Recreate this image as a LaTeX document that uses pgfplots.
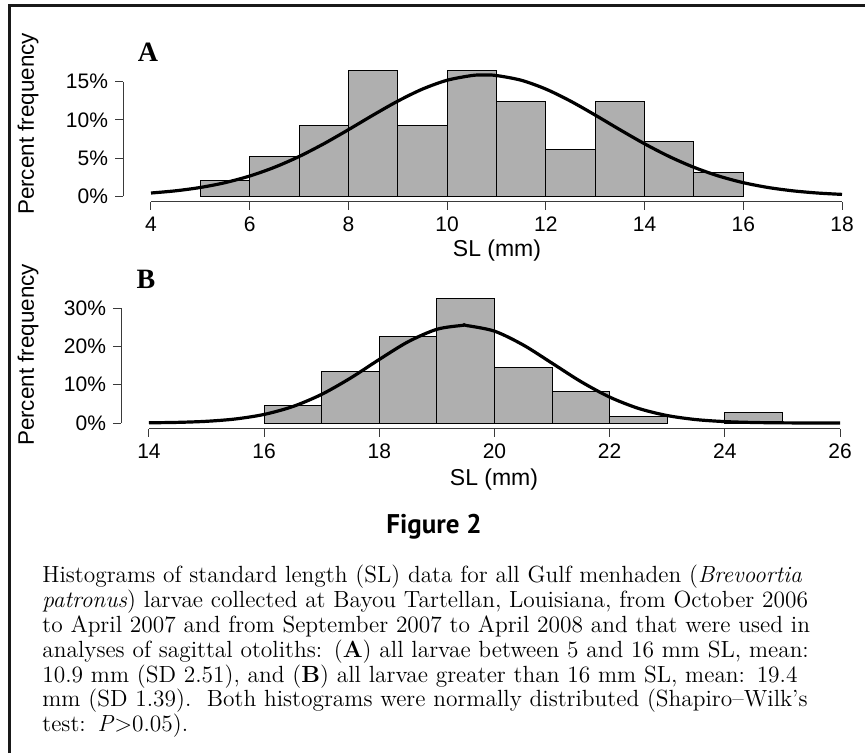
\documentclass[border=0pt]{standalone}
\usepackage{fontspec}
\usepackage{pgfplots}
\pgfplotsset{compat=1.18}
\newfontfamily\arial{Liberation Sans}
\newfontfamily\tnr{Liberation Serif}
\newfontfamily\ptsans{PT Sans}
\definecolor{barfill}{HTML}{AFAFAF}
\definecolor{axcol}{HTML}{3A3A3A}
\newcommand{\capline}[1]{\makebox[398.5pt][s]{#1}}
\begin{document}
\begin{tikzpicture}
\begin{scope}[x=0.5pt,y=-0.5pt]
\useasboundingbox (0,0) rectangle (865,753);
\draw[line width=1.5pt, color=black!90] (9.5,753) -- (9.5,5.5) -- (865,5.5);
\node[rotate=90, font=\arial\fontsize{11.2}{13}\selectfont] at (28,124) {Percent frequency};
\node[rotate=90, font=\arial\fontsize{11.2}{13}\selectfont] at (28,355) {Percent frequency};
\node[font=\tnr\bfseries\fontsize{14}{16}\selectfont] at (148,52) {A};
\node[font=\tnr\bfseries\fontsize{14}{16}\selectfont] at (146,279) {B};
\node[font=\arial\fontsize{11.5}{13}\selectfont] at (497,251) {SL (mm)};
\node[font=\arial\fontsize{11.5}{13}\selectfont] at (494,480) {SL (mm)};
\node[font=\ptsans\bfseries\fontsize{13.5}{15}\selectfont, anchor=base] at (434,533) {Figure 2};
\node[anchor=north west, inner sep=0pt, text width=398.5pt, align=left, font=\fontsize{11.7}{12.4}\selectfont] at (42,565) {%
\capline{Histograms of standard length (SL) data for all Gulf menhaden (\textit{Brevoortia}}\\
\capline{\textit{patronus}) larvae collected at Bayou Tartellan, Louisiana, from October 2006}\\
\capline{to April 2007 and from September 2007 to April 2008 and that were used in}\\
\capline{analyses of sagittal otoliths: (\textbf{A}) all larvae between 5 and 16 mm SL, mean:}\\
\capline{10.9 mm (SD 2.51), and (\textbf{B}) all larvae greater than 16 mm SL, mean: 19.4}\\
\capline{mm (SD 1.39).\ \ Both histograms were normally distributed (Shapiro--Wilk's}\\
test: \textit{P}\textgreater0.05).};
\end{scope}

\begin{axis}[
  at={(61.5pt,-101pt)}, anchor=south west,
  scale only axis, width=359.5pt, height=67.75pt,
  xmin=3.433, xmax=18, ymin=-0.75, ymax=17,
  axis line style={draw=none},
  tick align=outside, major tick length=4pt,
  xtick={4,6,...,18}, ytick={0,5,10,15},
  yticklabels={0\%,5\%,10\%,15\%},
  xtick pos=left, ytick pos=left,
  tick style={axcol, line width=0.5pt},
  ticklabel style={font=\arial\fontsize{10.5}{12}\selectfont},
  /pgf/number format/assume math mode=true,
  clip=false,
]
\addplot[ybar interval, fill=barfill, draw=black, line width=0.5pt] coordinates {
(5,2.06) (6,5.15) (7,9.28) (8,16.49) (9,9.28) (10,16.49) (11,12.37) (12,6.19) (13,12.37) (14,7.22) (15,3.09) (16,0)};
\addplot[smooth, line width=1.6pt, black] coordinates {
(4,0.427) (4.5,0.716) (5,1.153) (5.5,1.782) (6,2.653) (6.5,3.793) (7,5.207) (7.5,6.873) (8,8.721) (8.5,10.635) (9,12.464) (9.5,14.041) (10,15.200) (10.5,15.816) (10.75,15.894) (11,15.816) (11.5,15.200) (12,14.041) (12.5,12.464) (13,10.635) (13.5,8.721) (14,6.873) (14.5,5.207) (15,3.793) (15.5,2.653) (16,1.782) (16.5,1.153) (17,0.716) (17.5,0.427) (18,0.245)};
\draw[axcol, line width=0.5pt] (axis cs:4,-0.75) -- (axis cs:18,-0.75);
\draw[axcol, line width=0.5pt] (axis cs:3.433,0) -- (axis cs:3.433,15);
\end{axis}

\begin{axis}[
  at={(60.5pt,-214.25pt)}, anchor=south west,
  scale only axis, width=359.5pt, height=67.9pt,
  xmin=13.514, xmax=26, ymin=-1.43, ymax=34,
  axis line style={draw=none},
  tick align=outside, major tick length=4pt,
  xtick={14,16,...,26}, ytick={0,10,20,30},
  yticklabels={0\%,10\%,20\%,30\%},
  xtick pos=left, ytick pos=left,
  tick style={axcol, line width=0.5pt},
  ticklabel style={font=\arial\fontsize{10.5}{12}\selectfont},
  /pgf/number format/assume math mode=true,
  clip=false,
]
\addplot[ybar interval, fill=barfill, draw=black, line width=0.5pt] coordinates {
(16,4.5) (17,13.5) (18,22.5) (19,32.4) (20,14.4) (21,8.1) (22,1.8) (23,0)};
\addplot[ybar interval, fill=barfill, draw=black, line width=0.5pt] coordinates {
(24,2.7) (25,0)};
\addplot[smooth, line width=1.6pt, black] coordinates {
(14,0.059) (14.5,0.171) (15,0.448) (15.5,1.054) (16,2.244) (16.5,4.313) (17,7.489) (17.5,11.728) (18,16.594) (18.5,21.203) (19,24.458) (19.45,25.49) (19.5,25.477) (20,23.963) (20.5,20.351) (21,15.607) (21.5,10.808) (22,6.763) (22.5,3.816) (23,1.947) (23.5,0.895) (24,0.372) (24.5,0.140) (25,0.047) (25.5,0.014) (26,0.004)};
\draw[axcol, line width=0.5pt] (axis cs:14,-1.43) -- (axis cs:26,-1.43);
\draw[axcol, line width=0.5pt] (axis cs:13.514,0) -- (axis cs:13.514,30);
\end{axis}
\end{tikzpicture}
\end{document}
